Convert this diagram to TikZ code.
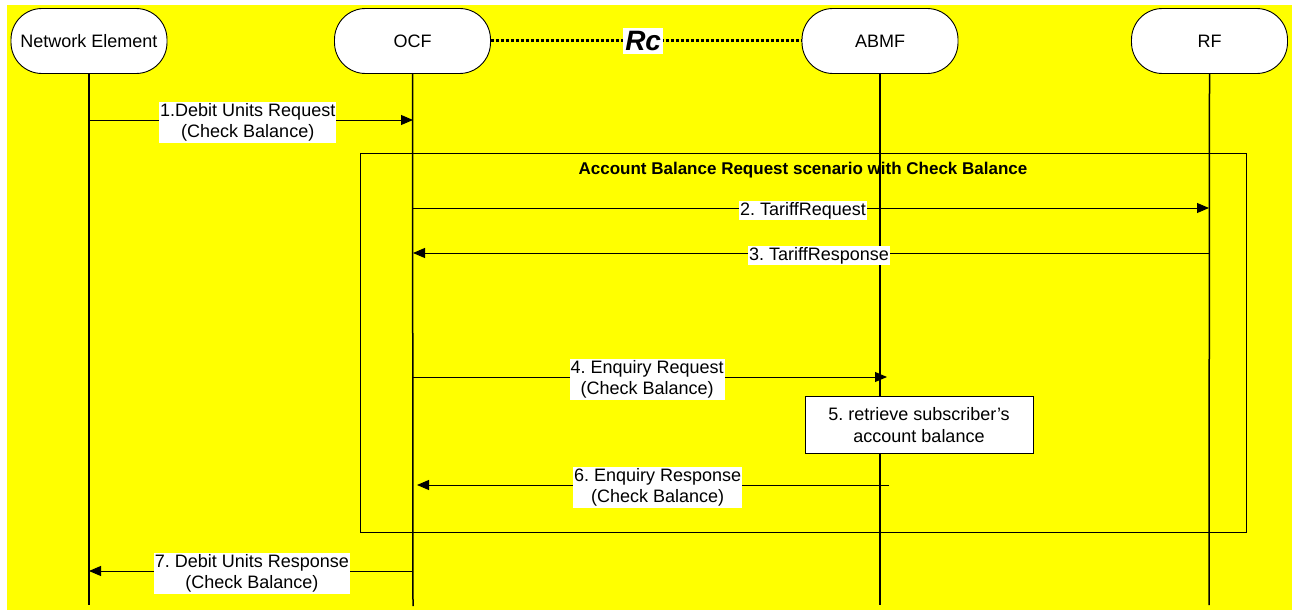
\documentclass[tikz,border=0pt]{standalone}
\usepackage{fontspec}
\setmainfont{Liberation Sans}
\usetikzlibrary{arrows.meta}
\definecolor{bgyellow}{RGB}{255,255,0}
\begin{document}
\frenchspacing
\begin{tikzpicture}[x=1pt,y=-1pt,
  font=\fontsize{18}{21.5}\selectfont,
  head/.style={draw,line width=0.9pt,fill=white,rounded corners=31pt,
    minimum width=156pt,minimum height=65pt,inner sep=0pt},
  life/.style={line width=1.5pt},
  msg/.style={line width=0.9pt,-{Triangle[length=12pt,width=10pt]}},
  lbl/.style={fill=white,inner sep=1pt,align=center,yshift=-2.5pt},
  iface/.style={line width=3pt,dash pattern=on 3pt off 2pt},
]
\useasboundingbox (0,0) rectangle (1292,610);
\fill[bgyellow] (7,5) rectangle (1292,610);

% participants
\node[head] (ne)   at (89,41)   {Network Element};
\node[head] (ocf)  at (412.5,41) {OCF};
\node[head] (abmf) at (880,41)  {ABMF};
\node[head] (rf)   at (1209.5,41) {RF};

% Rc reference point between OCF and ABMF
\draw[iface] (ocf.east) -- node[pos=0.49,fill=white,inner xsep=2pt,inner ysep=3pt,
  font=\bfseries\itshape\fontsize{28}{28}\selectfont] (rc) {Rc} (abmf.west);

% lifelines
\coordinate (ne-end)   at (89,605);
\coordinate (ocf-end)  at (413,606);
\coordinate (abmf-end) at (880,605);
\coordinate (rf-end)   at (1209,605);
\draw[life] (ne.south) -- (ne-end);
\draw[life] (ocf.south) -- (ocf-end);
\draw[life] (abmf.south) -- (abmf-end);
\draw[life] (rf.south) -- (rf-end);

% scenario frame
\node[draw,line width=0.9pt,minimum width=886pt,minimum height=379pt,inner sep=0pt]
  (frame) at (803,342.5) {};
\node[font=\bfseries\fontsize{17}{20}\selectfont] (title) at (803,170)
  {Account Balance Request scenario with Check Balance};

% message end points on the lifelines
\coordinate (m1a) at (89,120);   \coordinate (m1b) at (413,120);
\coordinate (m2a) at (413,208);  \coordinate (m2b) at (1209,208);
\coordinate (m3a) at (1209,253); \coordinate (m3b) at (413,253);
\coordinate (m4a) at (413,377);  \coordinate (m4b) at (887,377);
\coordinate (m6a) at (889,485);  \coordinate (m6b) at (417,485);
\coordinate (m7a) at (413,571);  \coordinate (m7b) at (89,571);

\draw[msg] (m1a) -- node[lbl,pos=0.49] (l1) {1.Debit Units Request\\(Check Balance)} (m1b);
\draw[msg] (m2a) -- node[lbl,pos=0.49] (l2) {2. TariffRequest} (m2b);
\draw[msg] (m3a) -- node[lbl,pos=0.49] (l3) {3. TariffResponse} (m3b);
\draw[msg] (m4a) -- node[lbl,pos=0.494] (l4) {4. Enquiry Request\\(Check Balance)} (m4b);

% local action in ABMF
\node[draw,fill=white,line width=0.9pt,minimum width=228pt,minimum height=57pt,
  inner sep=0pt,align=center] (b5) at (919,425)
  {5. retrieve subscriber’s\\account balance};

\draw[msg] (m6a) -- node[lbl,pos=0.49] (l6) {6. Enquiry Response\\(Check Balance)} (m6b);
\draw[msg] (m7a) -- node[lbl,pos=0.497] (l7) {7. Debit Units Response\\(Check Balance)} (m7b);
\end{tikzpicture}
\end{document}
